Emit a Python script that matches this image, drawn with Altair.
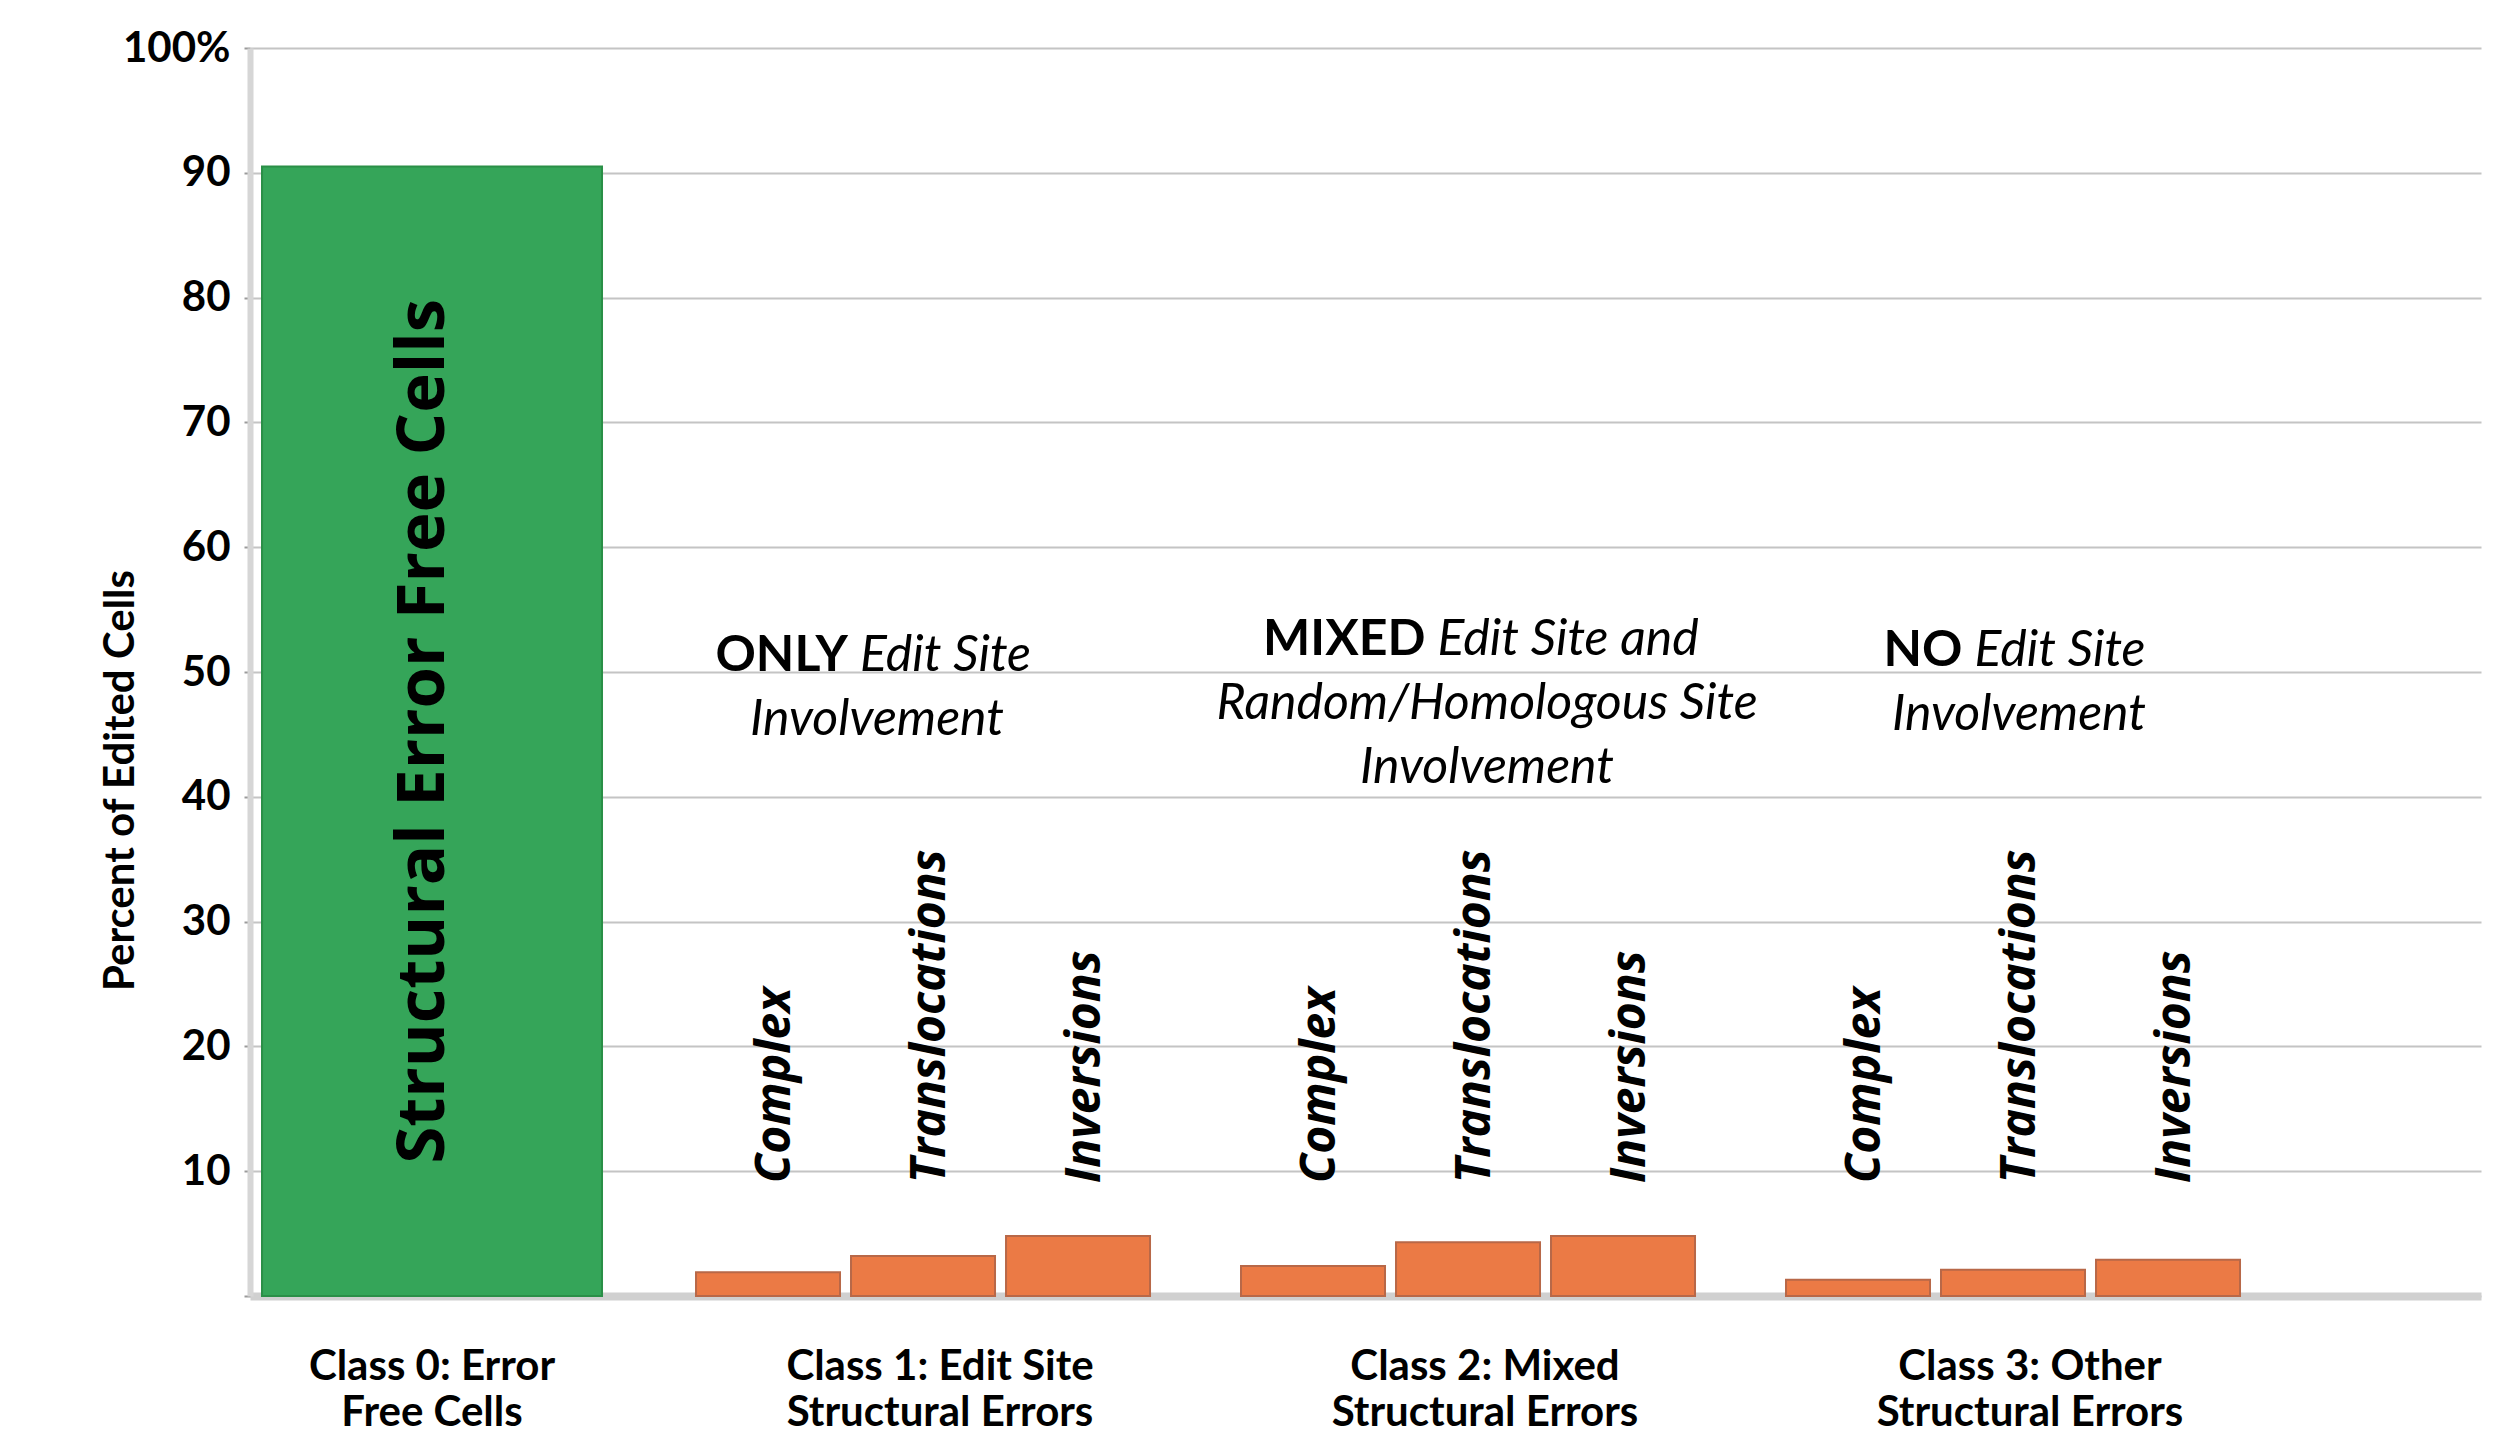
import altair as alt
import pandas as pd

# ---------------- data ----------------
CLASS0 = "Class 0: Error|Free Cells"
CLASS0_VALUE = 90.5
CLASS0_TEXT = "Structural Error Free Cells"

CLASSES = [
    "Class 1: Edit Site|Structural Errors",
    "Class 2: Mixed|Structural Errors",
    "Class 3: Other|Structural Errors",
]
SUBTYPES = ["Complex", "Translocations", "Inversions"]
COMPLEX = [1.9, 2.4, 1.3]
TRANSLOCATIONS = [3.2, 4.3, 2.1]
INVERSIONS = [4.8, 4.8, 2.9]

HEAD_BOLD = ["ONLY", "MIXED", "NO"]
HEAD_ITALIC = ["Edit Site", "Edit Site and", "Edit Site"]
REST_LINES = [["Involvement"], ["Random/Homologous Site", "Involvement"], ["Involvement"]]
ANNOT_Y = [50.1, 51.4, 50.5]
LABEL_BASE = 10

Y_TICKS = list(range(0, 101, 10))
Y_TITLE = "Percent of Edited Cells"

# ---------------- styles ----------------
W, H = 2231, 1248
HUM = "Lato, 'Open Sans', sans-serif"
SANS = "'Open Sans', 'Noto Sans', sans-serif"
GREEN = "#35a559"
ORANGE = "#eb7a45"

ANNOT_SHIFT = [-46, 19, 6]
ANNOT_SPLIT = [-29, -61.5, -56.5]
SPACE = 12

# ---------------- tables ----------------
df0 = pd.DataFrame({"cls": [CLASS0], "value": [CLASS0_VALUE], "label": [CLASS0_TEXT]})
rows = []
for ci, c in enumerate(CLASSES):
    for si, s in enumerate(SUBTYPES):
        v = [COMPLEX, TRANSLOCATIONS, INVERSIONS][si][ci]
        rows.append({"cls": c, "sub": s, "value": v, "base": LABEL_BASE})
dfb = pd.DataFrame(rows)

yscale = alt.Scale(domain=[0, 100], nice=False, zero=True)
yaxis = alt.Axis(
    values=Y_TICKS,
    labelExpr="datum.value == 100 ? '100%' : (datum.value == 0 ? '' : datum.label)",
    title=Y_TITLE,
    titleFont=HUM, titleFontSize=42, titleFontWeight="bold", titleColor="black",
    titleAngle=270, titleX=-130, titleY=732, titleAlign="center", titleBaseline="middle",
    labelFont=HUM, labelFontSize=42, labelFontWeight="bold", labelColor="black",
    labelPadding=14, labelBaseline="middle",
    grid=True, gridColor="#c4c4c4", gridWidth=2,
    domain=True, domainColor="#d6d6d6", domainWidth=6,
    ticks=True, tickSize=6, tickColor="#9a9a9a", tickWidth=2,
)

xlab = dict(
    orient="bottom", title=None, labelExpr="split(datum.label, '|')",
    labelFont=HUM, labelFontSize=42, labelFontWeight="bold", labelColor="black",
    labelLineHeight=46, labelPadding=50, labelAngle=0, labelBaseline="top",
    labelLimit=0, ticks=False, grid=False,
)
xaxisA = alt.Axis(domain=True, domainColor="#d0d0d0", domainWidth=8, **xlab)
xaxisB = alt.Axis(domain=False, labelOffset=17, **xlab)

xscaleA = alt.Scale(domain=[CLASS0], paddingInner=0.6404, paddingOuter=1, align=0.00635)
xscaleB = alt.Scale(domain=CLASSES, paddingInner=0, paddingOuter=0.5468, align=0.672)
offscale = alt.Scale(domain=SUBTYPES, paddingInner=0.071, paddingOuter=0.2935)

xA = alt.X("cls:N", scale=xscaleA, axis=xaxisA)
xB = alt.X("cls:N", scale=xscaleB, axis=xaxisB)

# ---------------- group A: class 0 ----------------
green_bar = alt.Chart(df0).mark_bar(color=GREEN, stroke="#2a8f47", strokeWidth=2).encode(
    x=xA, y=alt.Y("value:Q", scale=yscale, axis=yaxis)
)
green_text = alt.Chart(df0).transform_calculate(mid="datum.value / 2").mark_text(
    angle=270, align="center", baseline="middle", font=SANS, fontSize=67,
    fontWeight="bold", color="black", dy=-8,
).encode(x=xA, y=alt.Y("mid:Q", scale=yscale, axis=yaxis), text="label:N")
groupA = alt.layer(green_bar, green_text)

# ---------------- group B: classes 1-3 ----------------
orange = alt.Chart(dfb).mark_bar(color=ORANGE, stroke="#b86848", strokeWidth=2).encode(
    x=xB,
    xOffset=alt.XOffset("sub:N", scale=offscale),
    y=alt.Y("value:Q", scale=yscale, axis=yaxis),
)
sub_labels = alt.Chart(dfb).mark_text(
    angle=270, align="left", baseline="middle", font=SANS, fontSize=48,
    fontWeight="bold", fontStyle="italic", color="black", dx=-12, dy=8,
).encode(
    x=xB,
    xOffset=alt.XOffset("sub:N", scale=offscale),
    y=alt.Y("base:Q", scale=yscale, axis=yaxis),
    text="sub:N",
)
layersB = [orange, sub_labels]
for i, c in enumerate(CLASSES):
    dfa = pd.DataFrame({"cls": [c], "ay": [ANNOT_Y[i]]})
    enc = dict(x=xB, y=alt.Y("ay:Q", scale=yscale, axis=yaxis))
    common = dict(font=HUM, fontSize=50, color="black", baseline="alphabetic")
    layersB.append(alt.Chart(dfa).mark_text(
        text=HEAD_BOLD[i], fontWeight="bold", align="right",
        dx=ANNOT_SHIFT[i] + ANNOT_SPLIT[i], **common).encode(**enc))
    layersB.append(alt.Chart(dfa).mark_text(
        text=HEAD_ITALIC[i], fontStyle="italic", align="left",
        dx=ANNOT_SHIFT[i] + ANNOT_SPLIT[i] + SPACE, **common).encode(**enc))
    layersB.append(alt.Chart(dfa).mark_text(
        text=REST_LINES[i], fontStyle="italic", align="center", lineHeight=64,
        dx=ANNOT_SHIFT[i], dy=64, **common).encode(**enc))
groupB = alt.layer(*layersB)

chart = (
    alt.layer(groupA, groupB)
    .resolve_scale(x="independent")
    .resolve_axis(x="independent")
    .properties(
        width=W, height=H,
        autosize=alt.AutoSizeParams(type="none"),
        padding={"left": 242, "top": 40, "right": 27, "bottom": 142},
        background="white",
    )
    .configure_view(strokeWidth=0)
)

chart.save("out.html", embed_options={"renderer": "svg", "actions": False})
